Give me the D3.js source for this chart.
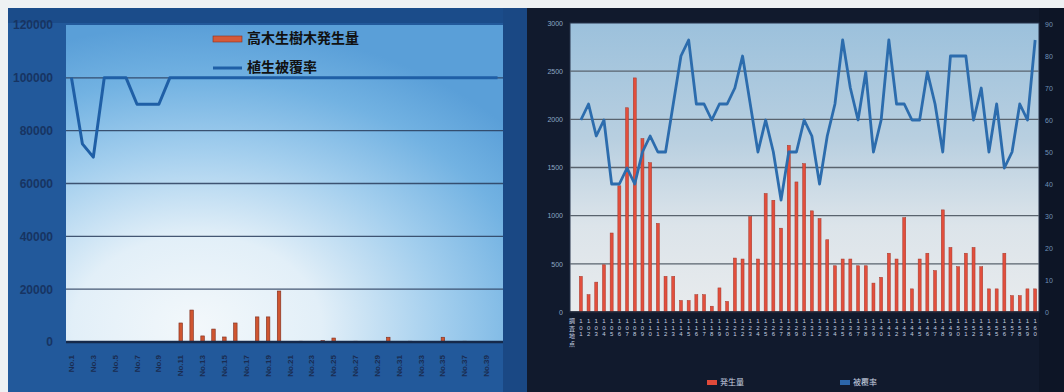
<!DOCTYPE html>
<html>
<head>
<meta charset="utf-8">
<script src="https://cdn.jsdelivr.net/npm/d3@7"></script>
<style>
  html, body { margin: 0; padding: 0; background: #eef1f3; }
  svg { display: block; }
</style>
</head>
<body>
<svg id="chart" width="1064" height="392"></svg>
<script>
// ---------- Panel A: tall-tree occurrence vs. vegetation cover ----------
const leftCategories = [
  "No.1","No.2","No.3","No.4","No.5","No.6","No.7","No.8","No.9","No.10",
  "No.11","No.12","No.13","No.14","No.15","No.16","No.17","No.18","No.19","No.20",
  "No.21","No.22","No.23","No.24","No.25","No.26","No.27","No.28","No.29","No.30",
  "No.31","No.32","No.33","No.34","No.35","No.36","No.37","No.38","No.39","No.40"
];
const leftTickLabels = [
  "No.1","No.3","No.5","No.7","No.9","No.11","No.13","No.15","No.17","No.19",
  "No.21","No.23","No.25","No.27","No.29","No.31","No.33","No.35","No.37","No.39"
];
const treeCountA = [
  0, 0, 0, 0, 0, 0, 0, 0, 0, 0,
  7200, 12100, 2300, 4900, 1900, 7200, 0, 9500, 9500, 19300,
  0, 300, 0, 500, 1500, 0, 300, 200, 0, 1800,
  0, 300, 200, 0, 1800, 0, 300, 0, 0, 0
];
const coverA = [
  100000, 75000, 70000, 100000, 100000, 100000, 90000, 90000, 90000, 100000,
  100000, 100000, 100000, 100000, 100000, 100000, 100000, 100000, 100000, 100000,
  100000, 100000, 100000, 100000, 100000, 100000, 100000, 100000, 100000, 100000,
  100000, 100000, 100000, 100000, 100000, 100000, 100000, 100000, 100000, 100000
];
const leftYTicks = [0, 20000, 40000, 60000, 80000, 100000, 120000];
const leftLegend = ["高木生樹木発生量", "植生被覆率"];

// ---------- Panel B: per-site occurrence (bars) and cover (line) ----------
const sites = [
  "101","102","103","104","105","106","107","108","109","110",
  "111","112","113","114","115","116","117","118","119","120",
  "121","122","123","124","125","126","127","128","129","130",
  "131","132","133","134","135","136","137","138","139","140",
  "141","142","143","144","145","146","147","148","149","150",
  "151","152","153","154","155","156","157","158","159","160"
];
const treeCountB = [
  370, 180, 310, 490, 820, 1310, 2120, 2430, 1800, 1550,
  920, 370, 370, 120, 120, 180, 180, 60, 250, 110,
  560, 550, 990, 550, 1230, 1160, 870, 1730, 1350, 1540,
  1050, 970, 750, 480, 550, 550, 480, 480, 300, 360,
  610, 550, 980, 240, 550, 610, 430, 1060, 670, 470,
  610, 670, 470, 240, 240, 610, 170, 170, 240, 240
];
const coverB = [
  60, 65, 55, 60, 40, 40, 45, 40, 50, 55,
  50, 50, 65, 80, 85, 65, 65, 60, 65, 65,
  70, 80, 65, 50, 60, 50, 35, 50, 50, 60,
  55, 40, 55, 65, 85, 70, 60, 75, 50, 60,
  85, 65, 65, 60, 60, 75, 65, 50, 80, 80,
  80, 60, 70, 50, 65, 45, 50, 65, 60, 85
];
const rightYTicks = [0, 500, 1000, 1500, 2000, 2500, 3000];
const rightY2Ticks = [0, 10, 20, 30, 40, 50, 60, 70, 80, 90];
const rightLegend = ["発生量", "被覆率"];
const rightAxisTitle = "調査地点";

const svg = d3.select("#chart");
const defs = svg.append("defs");
const JP = "'Noto Sans CJK JP', 'Noto Sans', sans-serif";
const SANS = "'Liberation Sans', Arial, sans-serif";
const plain = d3.format("d");

// ---- gradients ----
const rg = defs.append("radialGradient").attr("id", "skyA")
  .attr("cx", 0.3).attr("cy", 0.95).attr("r", 0.95);
[[0, "#f3f8fb"], [0.3, "#e2eff8"], [0.58, "#a4cfee"], [0.82, "#72b2e2"], [1, "#5a9fd8"]]
  .forEach(([o, c]) => rg.append("stop").attr("offset", o).attr("stop-color", c));

const lgB = defs.append("linearGradient").attr("id", "skyB")
  .attr("x1", 0).attr("y1", 0).attr("x2", 0).attr("y2", 1);
[[0, "#9cc1dc"], [0.4, "#b8cfe0"], [0.7, "#dce4ea"], [1, "#e8ebed"]]
  .forEach(([o, c]) => lgB.append("stop").attr("offset", o).attr("stop-color", c));

// ================= Panel A =================
const A = { l: 66, r: 503, t: 25, b: 342 };

svg.append("rect").attr("x", 8).attr("y", 8).attr("width", 520).attr("height", 384)
  .attr("fill", "#22599b");
svg.append("rect").attr("x", 8).attr("y", 8).attr("width", 520).attr("height", 15)
  .attr("fill", "#1b4c8a");
svg.append("rect").attr("x", A.r).attr("y", 8).attr("width", 25).attr("height", 384)
  .attr("fill", "#1a4884");
svg.append("rect").attr("x", A.l).attr("y", A.t).attr("width", A.r - A.l).attr("height", A.b - A.t)
  .attr("fill", "url(#skyA)");

const xA = d3.scaleBand().domain(leftCategories).range([A.l, A.r]);
const yA = d3.scaleLinear().domain([0, 120000]).range([A.b, A.t]);

// gridlines
svg.append("g").selectAll("line")
  .data(leftYTicks.filter(v => v > 0 && v < 120000))
  .join("line")
  .attr("x1", A.l).attr("x2", A.r)
  .attr("y1", d => yA(d)).attr("y2", d => yA(d))
  .attr("stroke", "#2a3d5c").attr("stroke-width", 1.4).attr("opacity", 0.85);

// y axis labels
const axA = svg.append("g").attr("transform", `translate(${A.l},0)`)
  .call(d3.axisLeft(yA).tickValues(leftYTicks).tickFormat(plain).tickSize(0).tickPadding(13));
axA.select(".domain").remove();
axA.selectAll("text")
  .style("font-family", SANS).style("font-size", "12px").style("font-weight", "bold")
  .style("fill", "#173462");

// bars
const barWA = 3.5;
svg.append("g").selectAll("rect")
  .data(leftCategories.map((c, i) => ({ c, v: treeCountA[i] })).filter(d => d.v > 0))
  .join("rect")
  .attr("x", d => xA(d.c) + xA.bandwidth() / 2 - barWA / 2)
  .attr("width", barWA)
  .attr("y", d => yA(d.v))
  .attr("height", d => A.b - yA(d.v))
  .attr("fill", "#cf5530").attr("stroke", "#7d2c1c").attr("stroke-width", 0.6);

// cover line
svg.append("path")
  .datum(coverA)
  .attr("d", d3.line()
    .x((d, i) => xA(leftCategories[i]) + xA.bandwidth() / 2)
    .y(d => yA(d)))
  .attr("fill", "none").attr("stroke", "#1f5fa6").attr("stroke-width", 3)
  .attr("stroke-linejoin", "round");

// baseline
svg.append("line").attr("x1", A.l).attr("x2", A.r).attr("y1", A.b).attr("y2", A.b)
  .attr("stroke", "#15294a").attr("stroke-width", 2.5);

// x axis labels (every other category)
const axAx = svg.append("g").attr("transform", `translate(0,${A.b})`)
  .call(d3.axisBottom(xA).tickValues(leftTickLabels).tickSize(0));
axAx.select(".domain").remove();
axAx.selectAll("text")
  .style("font-family", SANS).style("font-size", "8px").style("font-weight", "bold")
  .style("fill", "#1a2c50")
  .attr("text-anchor", "end").attr("dy", "0.32em")
  .attr("transform", "translate(0,13) rotate(-90)").attr("x", 0).attr("y", 0);

// legend
const legA = svg.append("g").attr("font-family", JP).attr("font-size", 14)
  .attr("font-weight", "bold").attr("fill", "#111");
legA.append("rect").attr("x", 213).attr("y", 36).attr("width", 29).attr("height", 6)
  .attr("fill", "#d45a3a").attr("stroke", "#8a3020").attr("stroke-width", 0.6);
legA.append("text").attr("x", 247).attr("y", 39).attr("dominant-baseline", "middle").text(leftLegend[0]);
legA.append("line").attr("x1", 213).attr("x2", 242).attr("y1", 68).attr("y2", 68)
  .attr("stroke", "#1f5fa6").attr("stroke-width", 3);
legA.append("text").attr("x", 247).attr("y", 68).attr("dominant-baseline", "middle").text(leftLegend[1]);

// ================= Panel B =================
const B = { l: 570, r: 1039, t: 23, b: 312 };

svg.append("rect").attr("x", 527).attr("y", 8).attr("width", 537).attr("height", 384)
  .attr("fill", "#111a2d");
svg.append("rect").attr("x", B.r).attr("y", 8).attr("width", 25).attr("height", 384)
  .attr("fill", "#0d1526");
svg.append("rect").attr("x", B.l).attr("y", B.t).attr("width", B.r - B.l).attr("height", B.b - B.t)
  .attr("fill", "url(#skyB)").attr("stroke", "#26324a").attr("stroke-width", 1);

const xB = d3.scaleBand().domain(sites).range([B.l + 7, B.r]);
const yB = d3.scaleLinear().domain([0, 3000]).range([B.b, B.t]);
const yB2 = d3.scaleLinear().domain([0, 90]).range([B.b, B.t + 1]);

svg.append("g").selectAll("line")
  .data(rightYTicks.filter(v => v > 0 && v < 3000))
  .join("line")
  .attr("x1", B.l).attr("x2", B.r)
  .attr("y1", d => yB(d)).attr("y2", d => yB(d))
  .attr("stroke", "#59636e").attr("stroke-width", 1.3);

// left axis labels
const axB = svg.append("g").attr("transform", `translate(${B.l},0)`)
  .call(d3.axisLeft(yB).tickValues(rightYTicks).tickFormat(plain).tickSize(0).tickPadding(7));
axB.select(".domain").remove();
axB.selectAll("text").style("font-family", SANS).style("font-size", "7px").style("fill", "#8ea8c4");

// right axis labels
const axB2 = svg.append("g").attr("transform", `translate(${B.r},0)`)
  .call(d3.axisRight(yB2).tickValues(rightY2Ticks).tickFormat(plain).tickSize(0).tickPadding(6));
axB2.select(".domain").remove();
axB2.selectAll("text").style("font-family", SANS).style("font-size", "7px").style("fill", "#6f93b8");

// bars
const barWB = 3;
svg.append("g").selectAll("rect")
  .data(sites.map((c, i) => ({ c, v: treeCountB[i] })))
  .join("rect")
  .attr("x", d => xB(d.c) + xB.bandwidth() / 2 - barWB / 2)
  .attr("width", barWB)
  .attr("y", d => yB(d.v))
  .attr("height", d => B.b - yB(d.v))
  .attr("fill", "#e24e3c").attr("stroke", "#a3382a").attr("stroke-width", 0.5);

// cover line
svg.append("path")
  .datum(coverB)
  .attr("d", d3.line()
    .x((d, i) => xB(sites[i]) + xB.bandwidth() / 2)
    .y(d => yB2(d)))
  .attr("fill", "none").attr("stroke", "#2c6cad").attr("stroke-width", 2.8)
  .attr("stroke-linejoin", "round");

svg.append("line").attr("x1", B.l).attr("x2", B.r).attr("y1", B.b).attr("y2", B.b)
  .attr("stroke", "#1c2436").attr("stroke-width", 1.5);

// site labels, characters stacked vertically
const axBx = svg.append("g").attr("transform", `translate(0,${B.b})`)
  .call(d3.axisBottom(xB).tickSize(0).tickFormat(""));
axBx.select(".domain").remove();
axBx.selectAll(".tick").each(function (d) {
  const t = d3.select(this).append("text")
    .style("font-family", SANS).style("font-size", "6px").style("fill", "#c4d0e0")
    .attr("text-anchor", "middle");
  d.split("").forEach((ch, k) => {
    t.append("tspan").attr("x", 0).attr("y", 11 + k * 6.6).text(ch);
  });
});

// axis title, stacked
const ttl = svg.append("text").attr("font-family", JP).attr("font-size", 6)
  .attr("fill", "#c4d0e0").attr("text-anchor", "middle");
rightAxisTitle.split("").forEach((ch, k) => {
  ttl.append("tspan").attr("x", 572).attr("y", 323 + k * 7.5).text(ch);
});

// legend
const legB = svg.append("g").attr("font-family", JP).attr("font-size", 8).attr("fill", "#c9d2e0");
legB.append("rect").attr("x", 707).attr("y", 380).attr("width", 10).attr("height", 5).attr("fill", "#e04a3a");
legB.append("text").attr("x", 720).attr("y", 383).attr("dominant-baseline", "middle").text(rightLegend[0]);
legB.append("rect").attr("x", 840).attr("y", 380).attr("width", 10).attr("height", 5).attr("fill", "#2c66aa");
legB.append("text").attr("x", 853).attr("y", 383).attr("dominant-baseline", "middle").text(rightLegend[1]);
</script>
</body>
</html>
